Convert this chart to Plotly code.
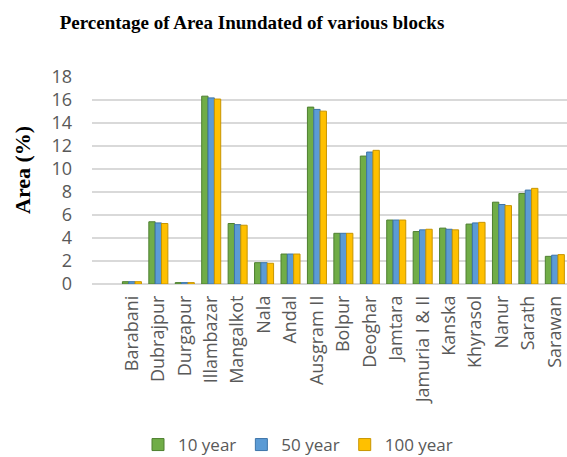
import plotly.graph_objects as go

blocks = ["Barabani", "Dubrajpur", "Durgapur", "Illambazar", "Mangalkot", "Nala",
          "Andal", "Ausgram II", "Bolpur", "Deoghar", "Jamtara", "Jamuria I & II",
          "Kanska", "Khyrasol", "Nanur", "Sarath", "Sarawan"]

area_10yr = [0.2, 5.4, 0.12, 16.3, 5.25, 1.85, 2.6, 15.35, 4.4, 11.1, 5.55, 4.55,
             4.85, 5.2, 7.1, 7.85, 2.4]
area_50yr = [0.2, 5.3, 0.12, 16.15, 5.15, 1.85, 2.6, 15.15, 4.4, 11.45, 5.55, 4.7,
             4.75, 5.3, 6.9, 8.15, 2.5]
area_100yr = [0.2, 5.25, 0.12, 16.05, 5.1, 1.8, 2.6, 15.0, 4.4, 11.6, 5.55, 4.75,
              4.7, 5.35, 6.8, 8.3, 2.55]

series = [
    ("10 year", area_10yr, "#70AD47", "#4E7F30"),
    ("50 year", area_50yr, "#5B9BD5", "#3D74A8"),
    ("100 year", area_100yr, "#FFC000", "#C89500"),
]

fig = go.Figure()
for name, vals, col, edge in series:
    fig.add_trace(go.Bar(
        x=blocks, y=vals, name=name,
        marker=dict(color=col, line=dict(color=edge, width=1)),
    ))

W, H = 567, 457
ml, mr, mt, mb = 92, 0, 76, 173

fig.update_layout(
    width=W, height=H,
    margin=dict(l=ml, r=mr, t=mt, b=mb, autoexpand=False),
    paper_bgcolor="white", plot_bgcolor="white",
    barmode="group", bargap=0.28, bargroupgap=0,
    font=dict(family="Open Sans, sans-serif", color="#595959"),
    title=dict(
        text="<b>Percentage of Area Inundated of various blocks</b>",
        x=252 / W, xanchor="center", y=1 - 22 / H, yanchor="middle",
        font=dict(family="Liberation Serif, Times New Roman, serif", size=19, color="black"),
    ),
    xaxis=dict(
        range=[-1.51, 16.46],
        tickangle=-90, tickfont=dict(size=18, color="#595959"),
        showgrid=False, showline=False, ticks="", automargin=False,
        ticklabelstandoff=7,
    ),
    yaxis=dict(
        range=[0, 18.05], tickvals=list(range(0, 19, 2)),
        tickfont=dict(size=18, color="#595959"),
        showgrid=True, gridcolor="#D9D9D9", gridwidth=2,
        zeroline=True, zerolinecolor="#D9D9D9", zerolinewidth=2,
        showline=False, ticks="", ticklabelstandoff=19, automargin=False,
    ),
    legend=dict(
        orientation="h", x=138 / W, xanchor="left", xref="container",
        y=1 - 445 / H, yanchor="middle", yref="container",
        font=dict(size=17, color="#595959"), itemwidth=30,
    ),
    annotations=[dict(
        text="<b>Area (%)</b>", textangle=-90,
        xref="paper", yref="paper", x=(22 - ml) / (W - ml - mr), y=(284 - 170) / 208,
        xanchor="center", yanchor="middle", showarrow=False,
        font=dict(family="Liberation Serif, Times New Roman, serif", size=22, color="black"),
    )],
)

fig.write_html("out.html")
